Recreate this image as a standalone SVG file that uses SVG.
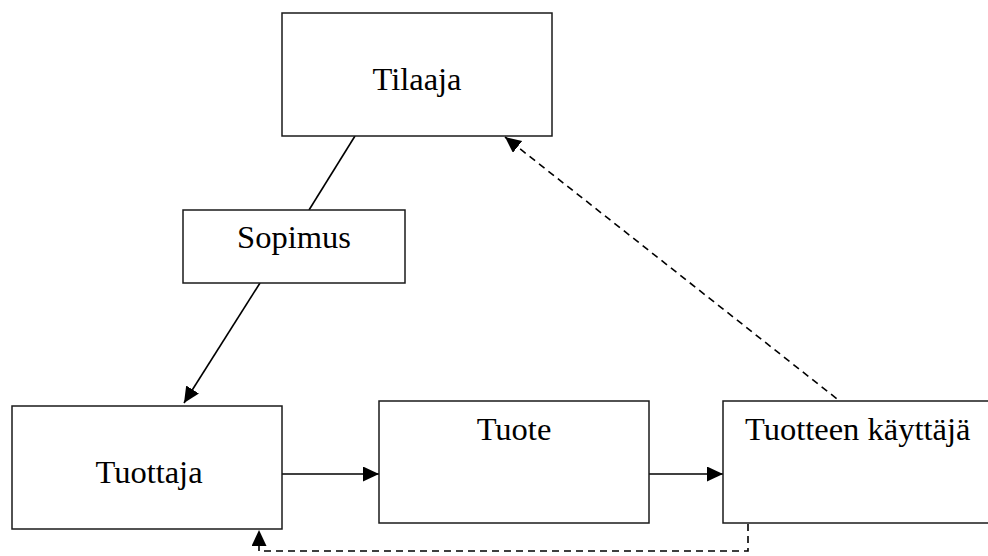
<svg xmlns="http://www.w3.org/2000/svg" width="988" height="556" viewBox="0 0 988 556">
  <style>
    .box { fill: #fff; stroke: #1a1a1a; stroke-width: 1.5; }
    .label { font-family: "Liberation Serif", "Times New Roman", serif; font-size: 32.5px; fill: #000; }
    .link { fill: none; stroke: #000; stroke-width: 1.6; }
    .dashed { stroke-dasharray: 7 5; }
  </style>
  <defs>
    <marker id="arrow" markerUnits="userSpaceOnUse" markerWidth="18" markerHeight="16" refX="16" refY="7.5" orient="auto">
      <polygon points="0,0 16,7.5 0,15" fill="#000"/>
    </marker>
  </defs>

  <rect width="988" height="556" fill="#fff"/>

  <!-- connectors -->
  <g id="connectors">
    <line class="link" x1="355" y1="136" x2="309" y2="210"/>
    <line class="link" x1="260" y1="283" x2="184" y2="403" marker-end="url(#arrow)"/>
    <line class="link" x1="282" y1="474" x2="379" y2="474" marker-end="url(#arrow)"/>
    <line class="link" x1="649" y1="474" x2="723" y2="474" marker-end="url(#arrow)"/>
    <line class="link dashed" x1="846" y1="406" x2="505" y2="137" marker-end="url(#arrow)"/>
    <path class="link dashed" d="M748,524 V551 H259 V530" marker-end="url(#arrow)"/>
  </g>

  <g id="node-tilaaja">
    <rect class="box" x="282" y="13" width="270" height="123"/>
    <text class="label" x="417" y="90" text-anchor="middle">Tilaaja</text>
  </g>

  <g id="node-sopimus">
    <rect class="box" x="183" y="210" width="222" height="73"/>
    <text class="label" x="294" y="248" text-anchor="middle">Sopimus</text>
  </g>

  <g id="node-tuottaja">
    <rect class="box" x="12" y="406" width="270" height="123"/>
    <text class="label" x="149" y="483" text-anchor="middle">Tuottaja</text>
  </g>

  <g id="node-tuote">
    <rect class="box" x="379" y="401" width="270" height="122"/>
    <text class="label" x="514" y="440" text-anchor="middle">Tuote</text>
  </g>

  <g id="node-tuotteen-kayttaja">
    <rect class="box" x="723" y="401" width="300" height="122"/>
    <text class="label" x="745" y="440">Tuotteen käyttäjä</text>
  </g>
</svg>
